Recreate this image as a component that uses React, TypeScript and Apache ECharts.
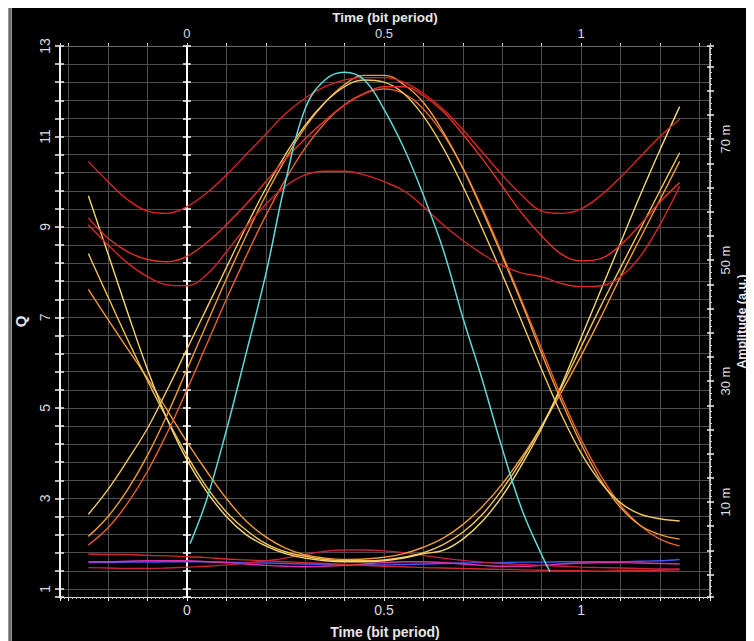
import React, { useEffect, useRef } from "react";
import * as echarts from "echarts";

// ---------- data ----------
const timeGrid = [
  -0.25, -0.2, -0.15, -0.1, -0.05, 0, 0.05, 0.1, 0.15, 0.2, 0.25, 0.3, 0.35, 0.4, 0.45, 0.5,
  0.55, 0.6, 0.65, 0.7, 0.75, 0.8, 0.85, 0.9, 0.95, 1.0, 1.05, 1.1, 1.15, 1.2, 1.25,
];

// "1 1 1" traces (red)
const high1 = [10.45, 10.0, 9.6, 9.35, 9.3, 9.45, 9.75, 10.15, 10.6, 11.05, 11.5, 11.85, 12.1, 12.25, 12.3, 12.3, 12.2, 11.95, 11.6, 11.15, 10.65, 10.15, 9.7, 9.35, 9.3, 9.4, 9.7, 10.1, 10.55, 11.0, 11.38];
const high2 = [9.2, 8.75, 8.45, 8.28, 8.23, 8.35, 8.65, 9.05, 9.5, 10.0, 10.5, 10.95, 11.35, 11.7, 11.95, 12.1, 12.1, 11.9, 11.55, 11.05, 10.5, 9.9, 9.3, 8.8, 8.4, 8.25, 8.3, 8.6, 9.05, 9.55, 9.98];
const high3 = [9.05, 8.6, 8.2, 7.9, 7.72, 7.7, 7.95, 8.45, 9.0, 9.5, 9.9, 10.15, 10.23, 10.23, 10.15, 10.0, 9.8, 9.45, 9.05, 8.7, 8.4, 8.15, 7.98, 7.9, 7.75, 7.68, 7.7, 7.9, 8.35, 9.05, 9.9];

// "0 1 0" traces (rising on the left, falling on the right)
const rise1 = [2.65, 3.2, 3.85, 4.55, 5.4, 6.3, 7.2, 8.1, 9.0, 9.85, 10.6, 11.25, 11.75, 12.1, 12.25, 12.2, 11.95, 11.45, 10.75, 9.9, 8.95, 7.95, 6.9, 5.85, 4.85, 4.0, 3.35, 2.9, 2.65, 2.55, 2.5];
const rise2 = [2.16, 2.6, 3.2, 3.95, 4.85, 5.85, 6.85, 7.85, 8.8, 9.7, 10.5, 11.2, 11.75, 12.15, 12.35, 12.35, 12.15, 11.75, 11.1, 10.3, 9.35, 8.35, 7.3, 6.2, 5.15, 4.2, 3.4, 2.8, 2.4, 2.2, 2.1];
const rise3 = [1.97, 2.35, 2.9, 3.6, 4.45, 5.4, 6.4, 7.4, 8.35, 9.25, 10.05, 10.75, 11.3, 11.7, 11.95, 12.05, 11.95, 11.6, 11.05, 10.3, 9.4, 8.4, 7.35, 6.3, 5.25, 4.3, 3.5, 2.85, 2.4, 2.1, 1.95];

// "1 0 1" traces (falling on the left, rising on the right)
const fall1 = [9.69, 8.4, 7.1, 5.85, 4.75, 3.85, 3.15, 2.6, 2.2, 1.95, 1.78, 1.68, 1.62, 1.6, 1.6, 1.62, 1.68, 1.78, 1.85, 2.1, 2.5, 3.05, 3.75, 4.55, 5.5, 6.55, 7.6, 8.65, 9.7, 10.7, 11.66];
const fall2 = [8.41, 7.45, 6.5, 5.6, 4.75, 3.95, 3.25, 2.7, 2.3, 2.0, 1.82, 1.72, 1.65, 1.62, 1.62, 1.64, 1.7, 1.8, 1.98, 2.25, 2.65, 3.2, 3.85, 4.6, 5.45, 6.35, 7.25, 8.1, 8.95, 9.8, 10.64];
const fall3 = [7.62, 6.95, 6.3, 5.65, 4.95, 4.25, 3.6, 3.0, 2.5, 2.15, 1.9, 1.75, 1.68, 1.65, 1.66, 1.7, 1.78, 1.92, 2.12, 2.42, 2.82, 3.32, 3.92, 4.6, 5.35, 6.15, 7.0, 7.9, 8.75, 9.6, 10.45];

// "0 0 0" traces near the bottom
const low1 = [1.77, 1.76, 1.76, 1.74, 1.73, 1.71, 1.69, 1.66, 1.64, 1.62, 1.6, 1.58, 1.56, 1.54, 1.52, 1.5, 1.49, 1.47, 1.46, 1.45, 1.44, 1.43, 1.42, 1.41, 1.4, 1.4, 1.39, 1.4, 1.4, 1.41, 1.42];
const low2 = [1.47, 1.46, 1.45, 1.45, 1.46, 1.48, 1.5, 1.53, 1.57, 1.62, 1.68, 1.76, 1.83, 1.86, 1.86, 1.84, 1.8, 1.74, 1.68, 1.63, 1.59, 1.56, 1.54, 1.52, 1.5, 1.48, 1.47, 1.46, 1.45, 1.44, 1.44];
const low3 = [1.58, 1.58, 1.59, 1.59, 1.6, 1.6, 1.6, 1.59, 1.58, 1.57, 1.56, 1.55, 1.54, 1.53, 1.53, 1.53, 1.54, 1.55, 1.56, 1.57, 1.58, 1.58, 1.59, 1.59, 1.6, 1.6, 1.6, 1.6, 1.61, 1.62, 1.65];
const low4 = [1.6, 1.6, 1.61, 1.62, 1.62, 1.62, 1.6, 1.58, 1.55, 1.52, 1.5, 1.49, 1.5, 1.52, 1.55, 1.58, 1.6, 1.6, 1.58, 1.55, 1.52, 1.5, 1.5, 1.52, 1.55, 1.57, 1.58, 1.58, 1.57, 1.56, 1.55];

// cyan trace
const cyanTime = [0.008, 0.05, 0.1, 0.15, 0.2, 0.25, 0.3, 0.35, 0.4, 0.45, 0.5, 0.55, 0.6, 0.65, 0.7, 0.75, 0.8, 0.85, 0.9, 0.921];
const cyanQ = [2.0, 2.97, 4.5, 6.2, 7.95, 10.0, 11.62, 12.25, 12.42, 12.25, 11.6, 10.75, 9.7, 8.5, 7.0, 5.6, 4.1, 2.75, 1.75, 1.38];

// axes
const timeTickLabels = [0, 0.5, 1];
const qTickLabels = [1, 3, 5, 7, 9, 11, 13];
const ampTickLabels = [10, 30, 50, 70]; // in m (milli a.u.)
const T_MIN = -0.322;
const T_MAX = 1.327;
const T_STEP = 0.1;
const Q_MIN = 0.82;
const Q_MAX = 13;
const Q_STEP = 0.4;
const AMP_MIN = -5.7;
const AMP_MAX = 85.4;
const AMP_STEP = 4;

const Q_OFFSET = 1; // left axis stores Q - 1 so ticks land on 1, 1.4, 1.8 ...
const AMP_OFFSET = 10; // right axis stores amp - 10 so ticks land on 10, 14, ...

const traces = [
  { values: low3, color: "#3c58ff" },
  { values: low4, color: "#e030b0" },
  { values: low1, color: "#d22a2a" },
  { values: low2, color: "#cc2040" },
  { values: fall3, color: "#ef9a3a" },
  { values: fall2, color: "#f2c252" },
  { values: fall1, color: "#f4d874" },
  { values: rise3, color: "#e8602c" },
  { values: rise2, color: "#f09a38" },
  { values: rise1, color: "#f2c860" },
  { values: high3, color: "#d82626" },
  { values: high2, color: "#e43028" },
  { values: high1, color: "#e02222" },
];

const FONT = "'Liberation Sans', Arial, sans-serif";

const near = (list: number[], v: number) => list.find((t) => Math.abs(t - v) < 1e-6);

export default function App() {
  const ref = useRef<HTMLDivElement>(null);

  useEffect(() => {
    if (!ref.current) return;
    const chart = echarts.init(ref.current, undefined, { renderer: "svg" });

    const fmtTime = (v: number) => {
      const m = near(timeTickLabels, v);
      return m === undefined ? "" : String(m);
    };
    const fmtQ = (v: number) => {
      const m = near(qTickLabels, v + Q_OFFSET);
      return m === undefined ? "" : String(m);
    };
    const fmtAmp = (v: number) => {
      const m = near(ampTickLabels, v + AMP_OFFSET);
      return m === undefined ? "" : m + " m";
    };

    const labelStyle = { color: "#dcdcdc", fontSize: 14, fontFamily: FONT };
    const nameStyle = { color: "#e6e6e6", fontSize: 14, fontWeight: "bold" as const, fontFamily: FONT };

    // ticks at multiples of the step (min/max fixed, interval forced through min/maxInterval)
    const timeAxisBase = {
      type: "value" as const,
      min: T_MIN,
      max: T_MAX,
      minInterval: T_STEP,
      maxInterval: T_STEP,
    };
    const qAxisBase = {
      type: "value" as const,
      min: Q_MIN - Q_OFFSET,
      max: Q_MAX - Q_OFFSET,
      minInterval: Q_STEP,
      maxInterval: Q_STEP,
    };
    const ampAxisBase = {
      type: "value" as const,
      min: AMP_MIN - AMP_OFFSET,
      max: AMP_MAX - AMP_OFFSET,
      minInterval: AMP_STEP,
      maxInterval: AMP_STEP,
    };
    const overlayY = (extra: any) => ({
      ...qAxisBase,
      axisLabel: { show: false },
      splitLine: { show: false },
      ...extra,
    });

    const series: any[] = traces.map((tr) => ({
      type: "line",
      xAxisIndex: 0,
      yAxisIndex: 0,
      data: timeGrid.map((t, i) => [t, tr.values[i] - Q_OFFSET]),
      smooth: 0.4,
      showSymbol: false,
      symbol: "none",
      silent: true,
      lineStyle: { color: tr.color, width: 1.4 },
    }));
    series.push({
      type: "line",
      xAxisIndex: 0,
      yAxisIndex: 0,
      data: cyanTime.map((t, i) => [t, cyanQ[i] - Q_OFFSET]),
      smooth: 0.4,
      showSymbol: false,
      symbol: "none",
      silent: true,
      lineStyle: { color: "#5fd8d8", width: 1.5 },
    });

    chart.setOption({
      animation: false,
      backgroundColor: "#000000",
      grid: { left: 52, top: 38, right: 44, bottom: 44, containLabel: false, outerBoundsMode: "none" },
      graphic: [
        { type: "rect", shape: { x: 0, y: 0, width: 4, height: 633 }, style: { fill: "#9a9a9a" } },
        { type: "rect", shape: { x: 1.5, y: 0, width: 1, height: 633 }, style: { fill: "#3a3a3a" } },
      ],
      xAxis: [
        {
          ...timeAxisBase,
          position: "bottom",
          axisLine: { onZero: false, lineStyle: { color: "#d8d8d8", width: 1 } },
          axisTick: { show: true, length: 4, lineStyle: { color: "#eeeeee", width: 1 } },
          minorTick: { show: true, splitNumber: 10, length: 2, lineStyle: { color: "#c8c8c8" } },
          axisLabel: { ...labelStyle, formatter: fmtTime, margin: 6 },
          splitLine: { show: true, lineStyle: { color: "#4e4e4e", width: 1 } },
          name: "Time (bit period)",
          nameLocation: "middle",
          nameGap: 28,
          nameMoveOverlap: false,
          nameTextStyle: nameStyle,
        },
        {
          ...timeAxisBase,
          position: "top",
          axisLine: { onZero: false, lineStyle: { color: "#6a6a6a", width: 1 } },
          axisTick: { show: true, length: 3, lineStyle: { color: "#cfcfcf", width: 1 } },
          axisLabel: { ...labelStyle, fontSize: 13, formatter: fmtTime, margin: 6 },
          splitLine: { show: false },
          name: "Time (bit period)",
          nameLocation: "middle",
          nameGap: 22,
          nameMoveOverlap: false,
          nameTextStyle: { ...nameStyle, fontSize: 13.5 },
        },
      ],
      yAxis: [
        {
          ...qAxisBase,
          position: "left",
          axisLine: { show: true, onZero: false, lineStyle: { color: "#f2f2f2", width: 2 } },
          axisTick: { show: true, length: 5, lineStyle: { color: "#f2f2f2", width: 1.5 } },
          axisLabel: { ...labelStyle, formatter: fmtQ, rotate: 90, margin: 8, showMaxLabel: true },
          splitLine: { show: true, lineStyle: { color: "#4e4e4e", width: 1 } },
          name: "Q",
          nameLocation: "middle",
          nameGap: 32,
          nameMoveOverlap: false,
          nameRotate: 90,
          nameTextStyle: { ...nameStyle, fontSize: 15 },
        },
        {
          ...ampAxisBase,
          position: "right",
          axisLine: { show: true, onZero: false, lineStyle: { color: "#e2e2e2", width: 1.5 } },
          axisTick: { show: true, length: 4, lineStyle: { color: "#eeeeee", width: 1.5 } },
          minorTick: { show: true, splitNumber: 4, length: 2, lineStyle: { color: "#cfcfcf" } },
          axisLabel: { ...labelStyle, fontSize: 13, formatter: fmtAmp, rotate: 90, margin: 9 },
          splitLine: { show: false },
          name: "Amplitude (a.u.)",
          nameLocation: "middle",
          nameGap: 25,
          nameMoveOverlap: false,
          nameRotate: 90,
          nameTextStyle: { ...nameStyle, fontSize: 12.5 },
        },
        overlayY({
          position: "left",
          axisLine: { show: true, onZero: true, onZeroAxisIndex: 0, lineStyle: { color: "#ffffff", width: 2 } },
          axisTick: { show: true, inside: true, length: 4, lineStyle: { color: "#ffffff", width: 1.5 } },
        }),
        overlayY({
          position: "left",
          axisLine: { show: true, onZero: true, onZeroAxisIndex: 0, lineStyle: { color: "#ffffff", width: 2 } },
          axisTick: { show: true, inside: false, length: 4, lineStyle: { color: "#ffffff", width: 1.5 } },
        }),
        overlayY({
          position: "left",
          axisLine: { show: false, onZero: false },
          axisTick: { show: true, inside: true, length: 4, lineStyle: { color: "#f2f2f2", width: 1.5 } },
        }),
        {
          ...ampAxisBase,
          position: "right",
          axisLine: { show: false, onZero: false },
          axisTick: { show: true, inside: true, length: 3, lineStyle: { color: "#eeeeee", width: 1.5 } },
          axisLabel: { show: false },
          splitLine: { show: false },
        },
      ],
      series,
    });

    return () => chart.dispose();
  }, []);

  return <div ref={ref} style={{ width: 746, height: 633 }} />;
}
